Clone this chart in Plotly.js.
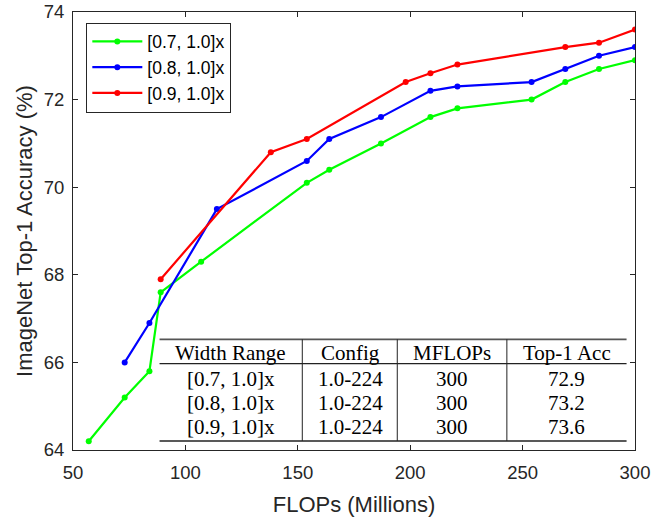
<!DOCTYPE html>
<html>
<head>
<meta charset="utf-8">
<script src="https://cdn.plot.ly/plotly-3.0.1.min.js"></script>
<style>html,body{margin:0;padding:0;background:#fff;}#chart{width:665px;height:521px;}</style>
</head>
<body>
<div id="chart"></div>
<script>
// ---- data ----
var seriesNames = ['[0.7, 1.0]x', '[0.8, 1.0]x', '[0.9, 1.0]x'];
var seriesColors = ['#00ff00', '#0000ff', '#ff0000'];

var flops07 = [57, 73, 84, 89, 107, 154, 164, 187, 209, 221, 254, 269, 284, 300];
var acc07   = [64.2, 65.2, 65.8, 67.6, 68.3, 70.1, 70.4, 71.0, 71.6, 71.8, 72.0, 72.4, 72.7, 72.9];

var flops08 = [73, 84, 114, 154, 164, 187, 209, 221, 254, 269, 284, 300];
var acc08   = [66.0, 66.9, 69.5, 70.6, 71.1, 71.6, 72.2, 72.3, 72.4, 72.7, 73.0, 73.2];

var flops09 = [89, 138, 154, 198, 209, 221, 269, 284, 300];
var acc09   = [67.9, 70.8, 71.1, 72.4, 72.6, 72.8, 73.2, 73.3, 73.6];

var xTicks = [50, 100, 150, 200, 250, 300];
var yTicks = [64, 66, 68, 70, 72, 74];

var tableHeader = ['Width Range', 'Config', 'MFLOPs', 'Top-1 Acc'];
var tableWidth  = ['[0.7, 1.0]x', '[0.8, 1.0]x', '[0.9, 1.0]x'];
var tableConfig = ['1.0-224', '1.0-224', '1.0-224'];
var tableMflops = ['300', '300', '300'];
var tableAcc    = ['72.9', '73.2', '73.6'];

// ---- traces ----
var xs = [flops07, flops08, flops09];
var ys = [acc07, acc08, acc09];
var traces = xs.map(function (x, i) {
  return {
    x: x, y: ys[i], name: seriesNames[i], type: 'scatter', mode: 'lines+markers',
    line: {color: seriesColors[i], width: 2.2},
    marker: {color: seriesColors[i], size: 6}
  };
});

// ---- table (booktabs style) ----
var tL = 0.154, tR = 0.985, tTop = 0.2526, tMid = 0.1970, tBot = 0.0206;
var colSeps = [0.408, 0.577, 0.772];
var colCenters = [0.281, 0.493, 0.675, 0.879];
var headerY = 0.222;
var rowYs = [0.163, 0.107, 0.052];
var ruleColor = '#222';

var shapes = [];
[tTop, tMid, tBot].forEach(function (yy, k) {
  shapes.push({type: 'line', xref: 'paper', yref: 'paper', x0: tL, x1: tR, y0: yy, y1: yy,
    line: {color: k === 0 ? '#555' : ruleColor, width: k === 1 ? 1.2 : 1.6}});
});
colSeps.forEach(function (xx) {
  shapes.push({type: 'line', xref: 'paper', yref: 'paper', x0: xx, x1: xx, y0: tBot, y1: tTop,
    line: {color: ruleColor, width: 1}});
});

var tableFont = {family: '"Liberation Serif", "Times New Roman", serif', size: 21, color: '#000'};
var annotations = [];
tableHeader.forEach(function (h, c) {
  annotations.push({xref: 'paper', yref: 'paper', x: colCenters[c], y: headerY, text: h,
    showarrow: false, xanchor: 'center', yanchor: 'middle', font: tableFont});
});
var cols = [tableWidth, tableConfig, tableMflops, tableAcc];
cols.forEach(function (col, c) {
  col.forEach(function (v, r) {
    annotations.push({xref: 'paper', yref: 'paper', x: colCenters[c], y: rowYs[r], text: v,
      showarrow: false, xanchor: 'center', yanchor: 'middle', font: tableFont});
  });
});

var axisFont = {family: '"Liberation Sans", Arial, sans-serif', size: 18.5, color: '#262626'};
var titleFont = {family: '"Liberation Sans", Arial, sans-serif', size: 22, color: '#262626'};

var layout = {
  width: 665, height: 521,
  margin: {l: 73, r: 30, t: 12, b: 71, pad: 0},
  paper_bgcolor: '#fff', plot_bgcolor: '#fff',
  showlegend: true,
  legend: {
    x: 0.0237, y: 0.976, xanchor: 'left', yanchor: 'top',
    bgcolor: '#fff', bordercolor: '#262626', borderwidth: 1,
    font: {family: '"Liberation Sans", Arial, sans-serif', size: 17.5, color: '#000'},
    itemwidth: 50, tracegroupgap: 0
  },
  xaxis: {
    range: [50, 300], tickvals: xTicks, ticktext: xTicks.map(String),
    ticks: 'inside', ticklen: 5, tickcolor: '#262626', tickwidth: 1,
    showline: true, linecolor: '#262626', linewidth: 1, mirror: 'ticks',
    showgrid: false, zeroline: false, tickfont: axisFont, ticklabelstandoff: 6,
    title: {text: 'FLOPs (Millions)', font: titleFont, standoff: 14}
  },
  yaxis: {
    range: [64, 74], tickvals: yTicks, ticktext: yTicks.map(String),
    ticks: 'inside', ticklen: 5, tickcolor: '#262626', tickwidth: 1,
    showline: true, linecolor: '#262626', linewidth: 1, mirror: 'ticks',
    showgrid: false, zeroline: false, tickfont: axisFont, ticklabelstandoff: 4,
    title: {text: 'ImageNet Top-1 Accuracy (%)', font: titleFont, standoff: 5}
  },
  shapes: shapes,
  annotations: annotations
};

Plotly.newPlot('chart', traces, layout, {displayModeBar: false, staticPlot: true});
</script>
</body>
</html>
